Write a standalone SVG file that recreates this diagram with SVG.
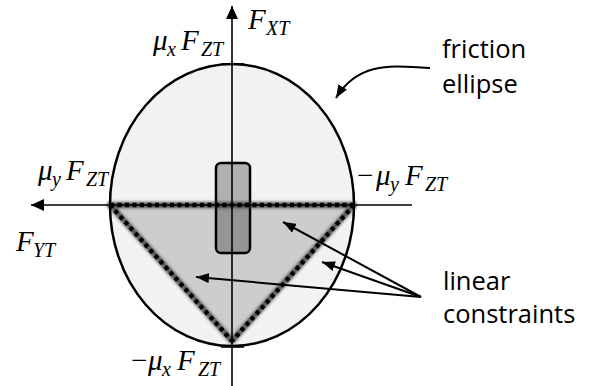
<svg xmlns="http://www.w3.org/2000/svg" width="592" height="386" viewBox="0 0 592 386">
<style>
.m{font-family:"Liberation Serif","Times New Roman",serif;font-style:italic;font-size:29px;fill:#000}
.s{font-family:"Liberation Serif","Times New Roman",serif;font-style:italic;font-size:20px;fill:#000}
.u{font-family:"Liberation Serif","Times New Roman",serif;font-size:29px;fill:#000}
.t{font-family:"Open Sans","Liberation Sans",sans-serif;font-size:25.5px;fill:#000}
.ax{stroke:#000;stroke-width:1.6;fill:none}
.tick{stroke:#000;stroke-width:1.6}
.lead{stroke:#000;stroke-width:2;fill:none}
.shadow{stroke:#333;stroke-width:6;fill:none;stroke-linecap:round;stroke-linejoin:round}
.dash{stroke:#000;stroke-width:4.5;fill:none;stroke-dasharray:4 3.5}
</style>
<defs>
<marker id="big" markerUnits="userSpaceOnUse" markerWidth="14" markerHeight="12" refX="13" refY="6" orient="auto">
<path d="M0,0 L13,6 L0,12 z" fill="#000"/>
</marker>
<marker id="small" markerUnits="userSpaceOnUse" markerWidth="14" markerHeight="10" refX="13" refY="5" orient="auto">
<path d="M0,0 L13,5 L0,10 z" fill="#000"/>
</marker>
<filter id="blur" x="-10%" y="-10%" width="120%" height="120%">
<feGaussianBlur stdDeviation="1.6"/>
</filter>
</defs>
<g id="friction-ellipse">
<ellipse cx="232" cy="205" rx="122" ry="141" fill="#f2f2f2" stroke="#000" stroke-width="2.5"/>
</g>
<g id="linear-region">
<polygon points="110,205 354,205 232,341" fill="#cdcdcd"/>
</g>
<g id="tire">
<rect x="216" y="163" width="34" height="90" rx="5" fill="#000" fill-opacity="0.27" stroke="#000" stroke-width="2.5"/>
</g>
<g id="constraint-lines">
<polyline class="shadow" points="110,205 354,205 232,341 110,205" filter="url(#blur)" opacity="0.8"/>
<polyline class="dash" points="110,205 354,205"/>
<polyline class="dash" points="354,205 232,341"/>
<polyline class="dash" points="110,205 232,341"/>
</g>
<g id="connectors">
<line class="ax" x1="232" y1="386" x2="232" y2="6" marker-end="url(#big)"/>
<line class="ax" x1="412" y1="205" x2="31" y2="205" marker-end="url(#big)"/>
<line class="tick" x1="221" y1="64" x2="244" y2="64"/>
<line class="tick" x1="221" y1="347" x2="244" y2="347"/>
<line class="tick" x1="110" y1="194" x2="110" y2="216"/>
<line class="tick" x1="354" y1="194" x2="354" y2="216"/>
<path class="lead" d="M430,68 C400,67 360,58 336,98" stroke-width="2.5" marker-end="url(#small)"/>
<line class="lead" x1="421" y1="297" x2="283" y2="222" marker-end="url(#small)"/>
<line class="lead" x1="421" y1="297" x2="322" y2="262" marker-end="url(#small)"/>
<line class="lead" x1="421" y1="297" x2="196" y2="277" marker-end="url(#small)"/>
</g>
<g id="label-FXT"><text class="m" x="248" y="29">F</text><text class="s" x="266" y="35">XT</text></g>
<g id="label-muxFZT"><text class="m" x="153" y="50">μ</text><text class="s" x="167" y="56">x</text><text class="m" x="181" y="50">F</text><text class="s" x="201" y="56">ZT</text></g>
<g id="label-muyFZT"><text class="m" x="38" y="180">μ</text><text class="s" x="52" y="186">y</text><text class="m" x="66" y="180">F</text><text class="s" x="86" y="186">ZT</text></g>
<g id="label-FYT"><text class="m" x="16" y="251">F</text><text class="s" x="33" y="257">YT</text></g>
<g id="label-neg-muyFZT"><text class="u" x="357" y="185">−</text><text class="m" x="376" y="185">μ</text><text class="s" x="390" y="191">y</text><text class="m" x="405" y="185">F</text><text class="s" x="425" y="191">ZT</text></g>
<g id="label-neg-muxFZT"><text class="u" x="131" y="370">−</text><text class="m" x="148" y="370">μ</text><text class="s" x="162" y="376">x</text><text class="m" x="177" y="370">F</text><text class="s" x="198" y="376">ZT</text></g>
<g id="label-friction"><text class="t" x="442" y="58">friction</text><text class="t" x="442" y="93">ellipse</text></g>
<g id="label-linear"><text class="t" x="443" y="290">linear</text><text class="t" x="443" y="323">constraints</text></g>
</svg>
